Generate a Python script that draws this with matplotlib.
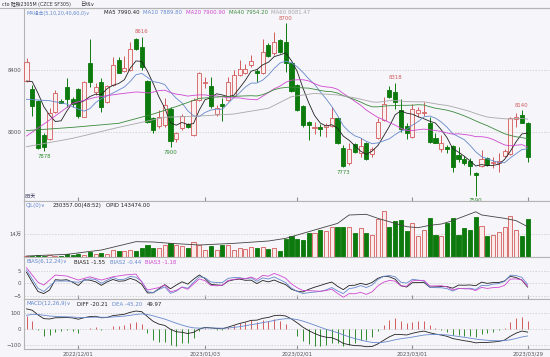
import numpy as np
import pandas as pd
import matplotlib
matplotlib.use('Agg')
import matplotlib.pyplot as plt
from matplotlib.lines import Line2D

plt.rcParams['font.family'] = ['DejaVu Sans', 'Noto Sans CJK SC']

# ---------------- data (index 0 = first visible day) ----------------
opens = [8329, 8277, 8200, 7981, 7953, 8131, 8200, 8288, 8211, 8275,
         8099, 8447, 8260, 8325, 8196, 8303, 8464, 8394, 8400, 8598,
         8551, 8329, 8093, 8039, 8045, 8146, 7953, 8024, 8050, 7981,
         8206, 8314, 8297, 8116, 8179, 8206, 8232, 8368, 8383, 8432,
         8396, 8379, 8561, 8507, 8594, 8583, 8443, 8303, 8168, 8067,
         8024, 8030, 8035, 8039, 8088, 7895, 7802, 7923, 7862, 7931,
         7858, 7959, 8078, 8271, 8260, 8142, 8039, 7970, 8125, 8121,
         8060, 7959, 7888, 7901, 7910, 7852, 7824, 7815, 7733, 7781,
         7830, 7798, 7802, 7845, 7858, 8082, 8110, 8056]
highs = [8475, 8303, 8206, 7991, 8153, 8271, 8211, 8346, 8224, 8282,
         8331, 8598, 8318, 8346, 8303, 8486, 8486, 8490, 8583, 8604,
         8616, 8336, 8099, 8142, 8217, 8164, 8002, 8116, 8056, 8217,
         8389, 8357, 8357, 8174, 8217, 8357, 8400, 8465, 8439, 8497,
         8404, 8598, 8572, 8647, 8598, 8700, 8447, 8310, 8174, 8073,
         8067, 8052, 8056, 8164, 8099, 7916, 7931, 7931, 7959, 7938,
         7905, 8088, 8224, 8297, 8318, 8211, 8056, 8181, 8159, 8196,
         8095, 7991, 7981, 7916, 7916, 7905, 7845, 7830, 7744, 7884,
         7841, 7841, 7862, 7888, 8099, 8121, 8140, 8067]
lows = [8323, 8103, 7888, 7878, 7948, 8121, 8185, 8164, 8164, 8088,
        8095, 8288, 8239, 8131, 8189, 8297, 8379, 8389, 8396, 8529,
        8400, 8060, 7992, 8024, 8035, 7900, 7938, 8013, 8024, 7974,
        8202, 8282, 8153, 8103, 8073, 8202, 8228, 8361, 8374, 8421,
        8325, 8374, 8486, 8497, 8512, 8389, 8260, 8136, 8035, 7949,
        7987, 7974, 7970, 8035, 7923, 7773, 7787, 7867, 7841, 7820,
        7841, 7953, 8073, 8217, 8146, 8002, 7953, 7959, 8095, 8103,
        7927, 7927, 7873, 7862, 7744, 7809, 7787, 7723, 7590, 7777,
        7781, 7766, 7744, 7841, 7852, 8035, 8056, 7809]
closes = [8454, 8168, 7895, 7905, 8121, 8250, 8189, 8211, 8179, 8103,
          8325, 8325, 8288, 8164, 8297, 8432, 8383, 8411, 8533, 8533,
          8417, 8067, 8013, 8099, 8174, 7942, 7991, 8103, 8030, 8206,
          8379, 8323, 8168, 8157, 8168, 8325, 8368, 8404, 8404, 8460,
          8379, 8518, 8490, 8583, 8518, 8443, 8267, 8142, 8045, 8045,
          8035, 8022, 8045, 8088, 7931, 7781, 7888, 7873, 7910, 7824,
          7888, 8067, 8179, 8224, 8196, 8017, 7991, 8146, 8142, 8131,
          7938, 7931, 7931, 7888, 7777, 7824, 7798, 7781, 7723, 7824,
          7787, 7809, 7815, 7880, 8088, 8095, 8060, 7841]
volumes = [8100, 6100, 10100, 6100, 14200, 8100, 4000, 18300, 14200, 18300,
           12200, 30400, 18300, 22300, 18300, 44600, 34500, 34500, 44600, 34500,
           54800, 71000, 54800, 54800, 75000, 83200, 71000, 65000, 54800, 89300,
           75000, 44600, 65000, 40600, 71000, 71000, 44600, 54800, 50700, 60900,
           54800, 60900, 50700, 54800, 38600, 109600, 129900, 111600, 103500, 146000,
           146000, 166000, 156000, 184600, 184600, 184600, 182600, 146000, 176500, 146000,
           136000, 233000, 282000, 182600, 221000, 227000, 160000, 207000, 125800, 166000,
           237000, 131900, 127800, 209000, 239000, 134000, 174500, 164000, 245500, 188700,
           127800, 134000, 152000, 180600, 249600, 164000, 127800, 230357]

# open interest (OPID), read at a subset of days
oi_idx = [0, 7, 13, 19, 22, 25, 30, 36, 42, 45, 48, 51, 54, 56, 59, 61, 63,
          66, 68, 70, 72, 74, 75, 78, 79, 83, 85, 87]
oi_vals = [4700, 12600, 33000, 72600, 71000, 64700, 56800, 64600, 75700, 88300,
           112000, 135600, 159000, 198700, 202000, 183000, 167000, 143500, 138800,
           150000, 156000, 172000, 183000, 214000, 199000, 183000, 172000, 143474]

# moving-average values at the left edge, where the window reaches before day 0
ma5_head_idx, ma5_head = [0, 1, 2, 3], [8329, 8325, 8250, 8164]
ma10_head_idx, ma10_head = [0, 4, 7], [8211, 8202, 8180]
ma20_head_idx, ma20_head = [0, 4, 8, 12, 16], [7974, 8077, 8185, 8224, 8245]
ma40_head_idx, ma40_head = [0, 8, 16, 22, 26, 30, 34], [8009, 8030, 8056, 8116, 8164, 8217, 8228]
ma60_head_idx = [0, 8, 16, 24, 30, 36, 42, 46, 50, 54, 57]
ma60_head = [7905, 7959, 8030, 8095, 8103, 8116, 8153, 8228, 8249, 8239, 8220]

bias1_head_idx, bias1_head = [0, 1, 2, 3, 4], [4.4, 0.4, -3.3, -4.1, -2.7]
bias2_head_idx, bias2_head = [0, 2, 3, 5, 7, 9], [5.3, -2.0, -3.3, 0.9, 0.9, 0.4]
bias3_head_idx = [0, 2, 3, 5, 7, 9, 11, 13, 15, 17, 19, 21]
bias3_head = [6.2, 0.4, -0.7, 3.3, 2.9, 1.3, 2.6, 1.3, 2.6, 3.3, 3.7, -2.7]

# MACD state on day 0
diff_start, dea_start, ema26_start = 130.0, 88.0, 8030.0

date_idx = [9, 31, 47, 67, 87]
date_labels = ['2022/12/01', '2023/01/03', '2023/02/01', '2023/03/01', '2023/03/29']
hi_marks = [20, 45, 64, 86]
lo_marks = [3, 25, 55, 78]

# ---------------- indicators ----------------
c = pd.Series(closes, dtype=float)
n = len(c)
x = np.arange(n)


def with_head(series, win, head_idx, head_vals):
    xs = list(head_idx) + list(range(win - 1, n))
    ys = list(head_vals) + list(series[win - 1:])
    return xs, ys


def ma_line(win, head_idx, head_vals):
    return with_head(c.rolling(win).mean(), win, head_idx, head_vals)


def bias_line(win, head_idx, head_vals):
    m = c.rolling(win).mean()
    return with_head((c - m) / m * 100, win, head_idx, head_vals)


ema12 = ema26_start + diff_start
ema26 = ema26_start
dea = dea_start
diff_l, dea_l = [diff_start], [dea_start]
for p in closes[1:]:
    ema12 = ema12 * 11 / 13 + p * 2 / 13
    ema26 = ema26 * 25 / 27 + p * 2 / 27
    d = ema12 - ema26
    dea = dea * 0.8 + d * 0.2
    diff_l.append(d)
    dea_l.append(dea)
diff_a = np.array(diff_l)
dea_a = np.array(dea_l)
hist = 2 * (diff_a - dea_a)

# ---------------- figure ----------------
BG = '#f5f5fa'
RED = '#d25c5c'
GREEN = '#0c7a0c'
BLUE = '#6688cc'
MAGENTA = '#d048d0'
OLIVE = '#3c8a3c'
GRAY = '#a8a8a8'
TXT = '#555555'
FS = 3.9
FS_CJK = 3.5

fig = plt.figure(figsize=(5.5, 3.57), dpi=100, facecolor=BG)
W, H = 550.0, 357.0


def panel(top, bottom):
    a = fig.add_axes([24 / W, 1 - bottom / H, 526 / W, (bottom - top) / H])
    a.set_facecolor(BG)
    a.set_xlim((24 - 26.5) / 5.76, (550 - 26.5) / 5.76)
    a.spines['right'].set_visible(False)
    for s in ['left', 'top', 'bottom']:
        a.spines[s].set_color('#b4b4b4')
        a.spines[s].set_linewidth(0.8)
    a.set_xticks(date_idx)
    a.tick_params(axis='x', direction='in', length=3, color='#909090', labelbottom=False)
    a.tick_params(axis='y', length=0, labelsize=FS, labelcolor=TXT, pad=2)
    a.grid(axis='y', color='#c8c8c8', linestyle=(0, (2, 2)), linewidth=0.5)
    a.set_axisbelow(True)
    return a


ax = panel(8, 200.5)
axv = panel(200.5, 257)
axb = panel(257, 299)
axm = panel(299, 349)

# main: candles
ax.set_ylim(7558, 8800)
ax.set_yticks([8000, 8400])
up = [cl >= op for op, cl in zip(opens, closes)]
for i in range(n):
    col = RED if up[i] else GREEN
    ax.vlines(i, lows[i], highs[i], color=col, linewidth=0.7, zorder=2)
    lo, hi = min(opens[i], closes[i]), max(opens[i], closes[i])
    h = max(hi - lo, 4)
    ax.bar(i, h, bottom=lo, width=0.72, color='#fbf1f1' if up[i] else GREEN,
           edgecolor=col, linewidth=0.6, zorder=3)

lines = [(5, ma5_head_idx, ma5_head, '#222222'),
         (10, ma10_head_idx, ma10_head, BLUE),
         (20, ma20_head_idx, ma20_head, MAGENTA),
         (40, ma40_head_idx, ma40_head, OLIVE),
         (60, ma60_head_idx, ma60_head, GRAY)]
for win, hi_, hv, col in lines:
    xs, ys = ma_line(win, hi_, hv)
    ax.plot(xs, ys, color=col, linewidth=0.6, zorder=4)

for i in hi_marks:
    ax.annotate(str(highs[i]), (i, highs[i]), xytext=(0, 2), textcoords='offset points',
                ha='center', va='bottom', fontsize=FS, color=RED)
for i in lo_marks:
    ax.annotate(str(lows[i]), (i, lows[i]), xytext=(0, -2), textcoords='offset points',
                ha='center', va='top', fontsize=FS, color='#2e8b2e')


def header(a, top, bottom, items):
    yy = (bottom - (top + 5)) / (bottom - top)
    for px, txt, col, fs in items:
        a.text((px - 24) / 526, yy, txt, transform=a.transAxes, fontsize=fs,
               color=col, va='center', ha='left')


header(ax, 8, 200.5, [(26, 'MA组合(5,10,20,40,60,0)∨', BLUE, FS_CJK),
                      (104, 'MA5 7990.40', '#222222', FS),
                      (143, 'MA10 7889.80', BLUE, FS),
                      (186, 'MA20 7900.90', MAGENTA, FS),
                      (229, 'MA40 7954.20', OLIVE, FS),
                      (271, 'MA60 8081.47', GRAY, FS)])
ax.text(1 / 526, 4 / 192.5, '88天', transform=ax.transAxes, fontsize=FS_CJK,
        color='#333355', va='center', ha='left')

# volume + open interest
axv.set_ylim(0, 343900)
axv.set_yticks([140000])
axv.set_yticklabels(['14万'])
for i in range(n):
    axv.bar(i, volumes[i], width=0.72, color='#fbeaea' if up[i] else GREEN,
            edgecolor=RED if up[i] else GREEN, linewidth=0.6, zorder=3)
axo = axv.twinx()
axo.set_ylim(0, 267400)
axo.axis('off')
axo.plot(oi_idx, oi_vals, color='#444444', linewidth=0.6)
header(axv, 200.5, 257, [(26, 'CJL(0)∨', BLUE, FS),
                         (53, '230357.00(48:52)', '#222222', FS),
                         (106, 'OPID 143474.00', '#222222', FS)])

# BIAS
axb.set_ylim(-6.28, 10.52)
axb.set_yticks([-5, 0, 5])
for win, hi_, hv, col in [(6, bias1_head_idx, bias1_head, '#222222'),
                          (12, bias2_head_idx, bias2_head, BLUE),
                          (24, bias3_head_idx, bias3_head, MAGENTA)]:
    xs, ys = bias_line(win, hi_, hv)
    axb.plot(xs, ys, color=col, linewidth=0.6)
header(axb, 257, 299, [(26, 'BIAS(6,12,24)∨', BLUE, FS),
                       (74, 'BIAS1 -1.55', '#222222', FS),
                       (110, 'BIAS2 -0.44', BLUE, FS),
                       (145, 'BIAS3 -1.18', MAGENTA, FS)])

# MACD
axm.set_ylim(-129, 193.5)
axm.set_yticks([-100, 0, 100])
axm.vlines(x, 0, hist, colors=[RED if v >= 0 else '#2e8b2e' for v in hist], linewidth=0.7)
axm.plot(x, diff_a, color='#222222', linewidth=0.6)
axm.plot(x, dea_a, color=BLUE, linewidth=0.6)
header(axm, 299, 349, [(26, 'MACD(12,26,9)∨', BLUE, FS),
                       (77, 'DIFF -20.21', '#222222', FS),
                       (112, 'DEA -45.20', BLUE, FS),
                       (147, '49.97', '#222222', FS)])
axm.set_xticklabels(date_labels)
axm.tick_params(axis='x', labelbottom=True, labelsize=FS, labelcolor=TXT, pad=1.5)

# title row above the chart
fig.add_artist(Line2D([0, 1], [1 - 8 / H, 1 - 8 / H], color='#b4b4b4', linewidth=0.8))
fig.text(2 / W, 1 - 4 / H, 'cto 硅铁2305M (CZCE SF305)', fontsize=3.4, color='#333333', va='center')
fig.text(80 / W, 1 - 4 / H, '日线∨', fontsize=FS_CJK + 0.3, color='#333333', va='center')

fig.savefig('out.png', dpi=100, facecolor=BG)
